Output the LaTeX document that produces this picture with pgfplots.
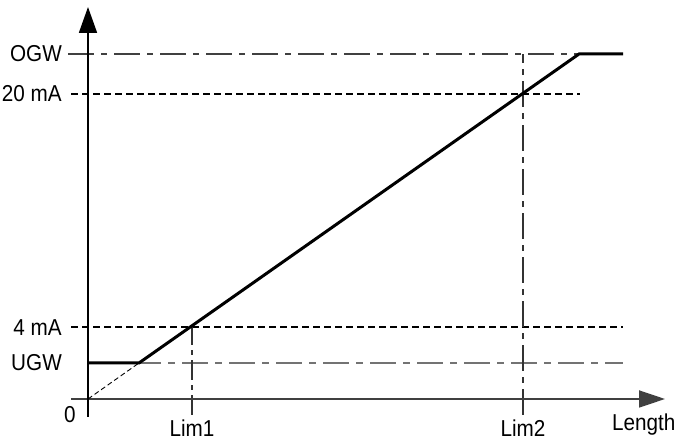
\documentclass[border=0pt]{standalone}
\usepackage{fontspec}
\setmainfont{Liberation Sans}[FakeStretch=0.9]
\usepackage{pgfplots}
\pgfplotsset{compat=1.18}
\usetikzlibrary{arrows.meta}
\begin{document}
\begin{tikzpicture}[lbl/.style={font=\fontsize{23}{27}\selectfont, inner sep=0pt}]
\begin{axis}[
    scale only axis,
    width=683pt, height=443pt,
    xmin=-88, xmax=595, ymin=-44, ymax=399,
    hide axis, clip=false,
  ]
  \path (rel axis cs:0,0) rectangle (rel axis cs:1,1);
  % guide lines
  \addplot[black!75, line width=1.2pt, dash pattern=on 26pt off 7pt on 6pt off 7pt] coordinates {(-20,345) (535,345)};
  \addplot[black, line width=1.2pt, dash pattern=on 7pt off 4pt] coordinates {(-17,305) (492,305)};
  \addplot[black, line width=1.2pt, dash pattern=on 7pt off 4pt] coordinates {(-17,72) (535,72)};
  \addplot[black!55, line width=1.6pt, dash pattern=on 26pt off 7pt on 7pt off 7pt] coordinates {(0,36) (535,36)};
  \addplot[black!80, line width=1.2pt, dash pattern=on 20pt off 5pt on 5pt off 5pt] coordinates {(104,-16) (104,72)};
  \addplot[black!80, line width=1.2pt, dash pattern=on 26pt off 6pt on 6pt off 6pt] coordinates {(435,-16) (435,345)};
  % axes
  \addplot[black!75, line width=1.8pt, -{Triangle[length=26pt,width=17pt]}] coordinates {(-17,0) (577,0)};
  \addplot[black, line width=1.8pt, -{Triangle[length=26pt,width=18pt]}] coordinates {(0,-18) (0,392)};
  % characteristic
  \addplot[black, line width=0.9pt, dash pattern=on 5pt off 3pt] coordinates {(0,0) (51,36)};
  \addplot[black, line width=3pt] coordinates {(0,36) (51,36) (491,345) (535,345)};
  % labels
  \node[lbl, anchor=east] at (axis cs:-26,345) {OGW};
  \node[lbl, anchor=east] at (axis cs:-26,305) {20 mA};
  \node[lbl, anchor=east] at (axis cs:-26,71) {4 mA};
  \node[lbl, anchor=east] at (axis cs:-26,36) {UGW};
  \node[lbl] at (axis cs:-18,-16) {0};
  \node[lbl] at (axis cs:104,-29) {Lim1};
  \node[lbl] at (axis cs:435,-29) {Lim2};
  \node[lbl, anchor=west] at (axis cs:524,-26) {Length};
\end{axis}
\end{tikzpicture}
\end{document}
